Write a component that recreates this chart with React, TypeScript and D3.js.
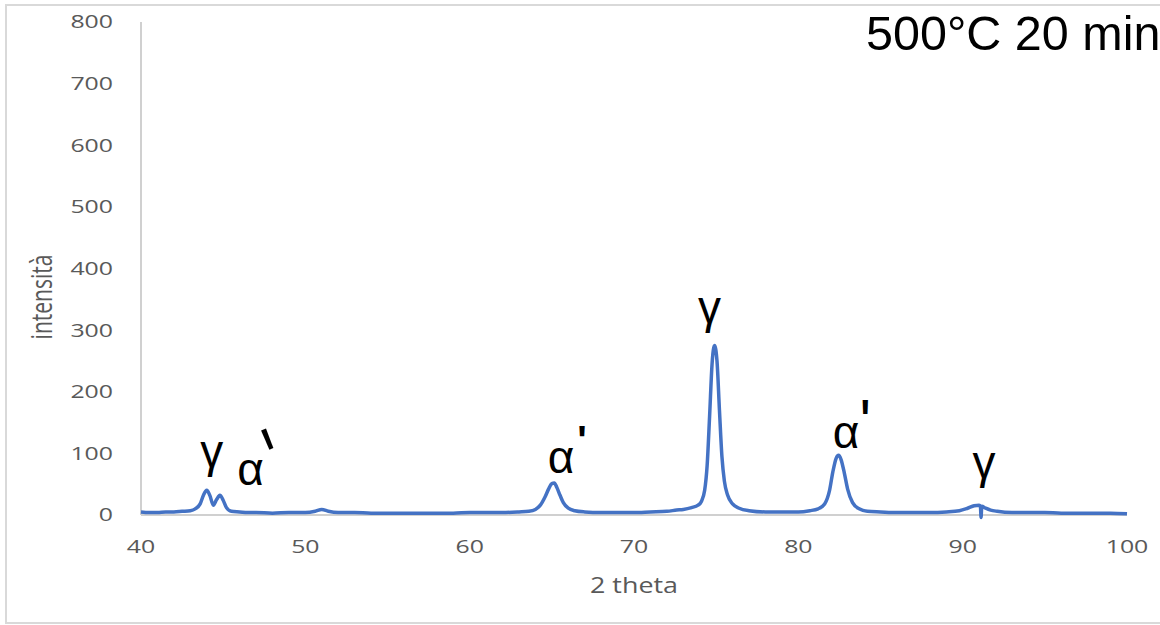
import { useRef, useEffect } from "react";
import * as d3 from "d3";

// XRD pattern (2 theta, intensity)
const THETA = [
  40, 40.5, 41, 41.5, 42, 42.5, 43, 43.3, 43.6, 43.8, 44.0, 44.2, 44.4, 44.6, 44.8, 45.0, 45.2, 45.5,
  46, 46.5, 47, 48, 49, 50, 50.6, 51, 51.4, 52, 53, 54, 55, 56, 57, 58, 59, 60, 61, 62, 63, 63.6,
  64, 64.3, 64.6, 64.8, 65.0, 65.15, 65.3, 65.5, 65.7, 66.0, 66.4, 67, 68, 69, 70, 71, 72, 72.6, 73,
  73.5, 73.9, 74.1, 74.3, 74.45, 74.6, 74.75, 74.9, 75.05, 75.2, 75.35, 75.5, 75.7, 76.0, 76.4, 77,
  78, 79, 80, 80.7, 81.2, 81.6, 81.9, 82.1, 82.3, 82.45, 82.6, 82.8, 83.0, 83.3, 83.7, 84.2, 85, 86,
  87, 88, 89, 89.8, 90.3, 90.7, 91.0, 91.08, 91.12, 91.16, 91.4, 91.7, 92.1, 93, 94, 95, 96, 97, 98,
  99, 100,
];
const INTENSITY = [
  5, 4, 4, 5, 5, 6, 7, 10, 18, 32, 40, 31, 16, 25, 32, 24, 12, 6,
  5, 4, 4, 3, 4, 4, 6, 9, 6, 4, 4, 3, 3, 3, 3, 3, 3, 4, 4, 4, 5, 6,
  9, 16, 30, 42, 51, 52, 45, 32, 20, 11, 7, 5, 4, 4, 4, 5, 6, 8, 9,
  12, 16, 22, 40, 80, 160, 245, 275, 250, 170, 95, 55, 32, 18, 11, 7,
  5, 5, 5, 7, 10, 18, 40, 70, 92, 97, 90, 68, 42, 20, 10, 6, 5, 4,
  4, 4, 5, 7, 11, 15, 16, 14, -4, 14, 11, 8, 6, 4, 4, 4, 3, 3, 3,
  3, 2,
];

const X_TICKS = [40, 50, 60, 70, 80, 90, 100];
const Y_TICKS = [0, 100, 200, 300, 400, 500, 600, 700, 800];

// phase labels: glyph, 2theta of left edge, intensity of baseline
const LABEL_TEXT = ["γ", "α", "α", "γ", "α", "γ"];
const LABEL_THETA = [43.6, 45.85, 64.75, 73.9, 82.1, 90.6];
const LABEL_VALUE = [78, 49, 68, 312, 109, 60];

// primes after α: 2theta, intensity of centre, tilt, stretch
const PRIME_THETA = [47.62, 66.84, 84.07];
const PRIME_VALUE = [128, 138, 179];
const PRIME_TILT = [-22, 0, 0];
const PRIME_STRETCH = [2.1, 1.0, 1.4];

const W = 1160;
const H = 625;
const SX = 1.38; // the chart is stretched sideways

export default function App() {
  const svgRef = useRef<SVGSVGElement>(null);

  useEffect(() => {
    if (!svgRef.current) return;
    const svg = d3.select(svgRef.current);
    svg.selectAll("*").remove();

    const margin = { top: 22, right: 33, bottom: 110, left: 141 };
    const x = d3.scaleLinear().domain([40, 100]).range([margin.left, W - margin.right]);
    const y = d3.scaleLinear().domain([0, 800]).range([H - margin.bottom, margin.top]);

    svg.attr("width", W).attr("height", H);

    // outer frame
    svg.append("rect").attr("x", 6).attr("y", 5).attr("width", W + 10).attr("height", 618)
      .attr("fill", "white").attr("stroke", "#d9d9d9").attr("stroke-width", 2);

    // axis lines
    svg.append("line").attr("x1", x(40)).attr("x2", x(40)).attr("y1", y(800)).attr("y2", y(0))
      .attr("stroke", "#d0d0d0").attr("stroke-width", 2);
    svg.append("line").attr("x1", x(40)).attr("x2", x(100)).attr("y1", y(0)).attr("y2", y(0))
      .attr("stroke", "#d0d0d0").attr("stroke-width", 2);

    const font = "'Open Sans', sans-serif";

    // y tick labels
    svg.append("g").selectAll("text").data(Y_TICKS).enter().append("text")
      .attr("transform", (d) => `translate(113,${y(d)}) scale(${SX},1)`)
      .attr("text-anchor", "end").attr("dy", "0.36em")
      .style("font-family", font).style("font-size", "18px").style("fill", "#595959")
      .text((d) => d);

    // x tick labels
    svg.append("g").selectAll("text").data(X_TICKS).enter().append("text")
      .attr("transform", (d) => `translate(${x(d)},${y(0) + 32}) scale(${SX},1)`)
      .attr("text-anchor", "middle").attr("dy", "0.36em")
      .style("font-family", font).style("font-size", "18px").style("fill", "#595959")
      .text((d) => d);

    // axis titles
    svg.append("text")
      .attr("transform", `translate(${(x(40) + x(100)) / 2},593) scale(1.28,1)`)
      .attr("text-anchor", "middle")
      .style("font-family", font).style("font-size", "21px").style("fill", "#595959")
      .text("2 theta");
    svg.append("text")
      .attr("transform", `translate(52,297) scale(${SX},1) rotate(-90)`)
      .attr("text-anchor", "middle")
      .style("font-family", font).style("font-size", "21px").style("fill", "#595959")
      .text("intensità");

    // pattern
    const pts = THETA.map((t, i) => [t, INTENSITY[i]] as [number, number]);
    const line = d3.line<[number, number]>()
      .x((d) => x(d[0]))
      .y((d) => y(d[1]))
      .curve(d3.curveMonotoneX);
    svg.append("path").datum(pts).attr("d", line)
      .attr("fill", "none").attr("stroke", "#4472c4").attr("stroke-width", 3.5)
      .attr("stroke-linejoin", "round");

    // phase labels
    const greek = "'Liberation Sans', Arial, sans-serif";
    LABEL_TEXT.forEach((s, i) => {
      svg.append("text")
        .attr("x", x(LABEL_THETA[i])).attr("y", y(LABEL_VALUE[i]))
        .style("font-family", greek).style("font-size", "46px").style("fill", "#000")
        .text(s);
    });
    PRIME_THETA.forEach((t, i) => {
      svg.append("text")
        .attr("transform", `translate(${x(t)},${y(PRIME_VALUE[i])}) rotate(${PRIME_TILT[i]}) scale(1,${PRIME_STRETCH[i]})`)
        .attr("text-anchor", "middle").attr("y", 0.6 * 40)
        .style("font-family", greek).style("font-size", "40px").style("font-weight", "700")
        .style("fill", "#000")
        .text("'");
    });

    // sample title
    svg.append("text").attr("x", 866).attr("y", 50)
      .style("font-family", greek).style("font-size", "48.5px").style("fill", "#000")
      .text("500°C 20 min");

    return () => {
      svg.selectAll("*").remove();
    };
  }, []);

  return (
    <div style={{ position: "absolute", left: 0, top: 0, width: W, height: H, overflow: "hidden", background: "white" }}>
      <svg ref={svgRef} style={{ display: "block" }} />
    </div>
  );
}
